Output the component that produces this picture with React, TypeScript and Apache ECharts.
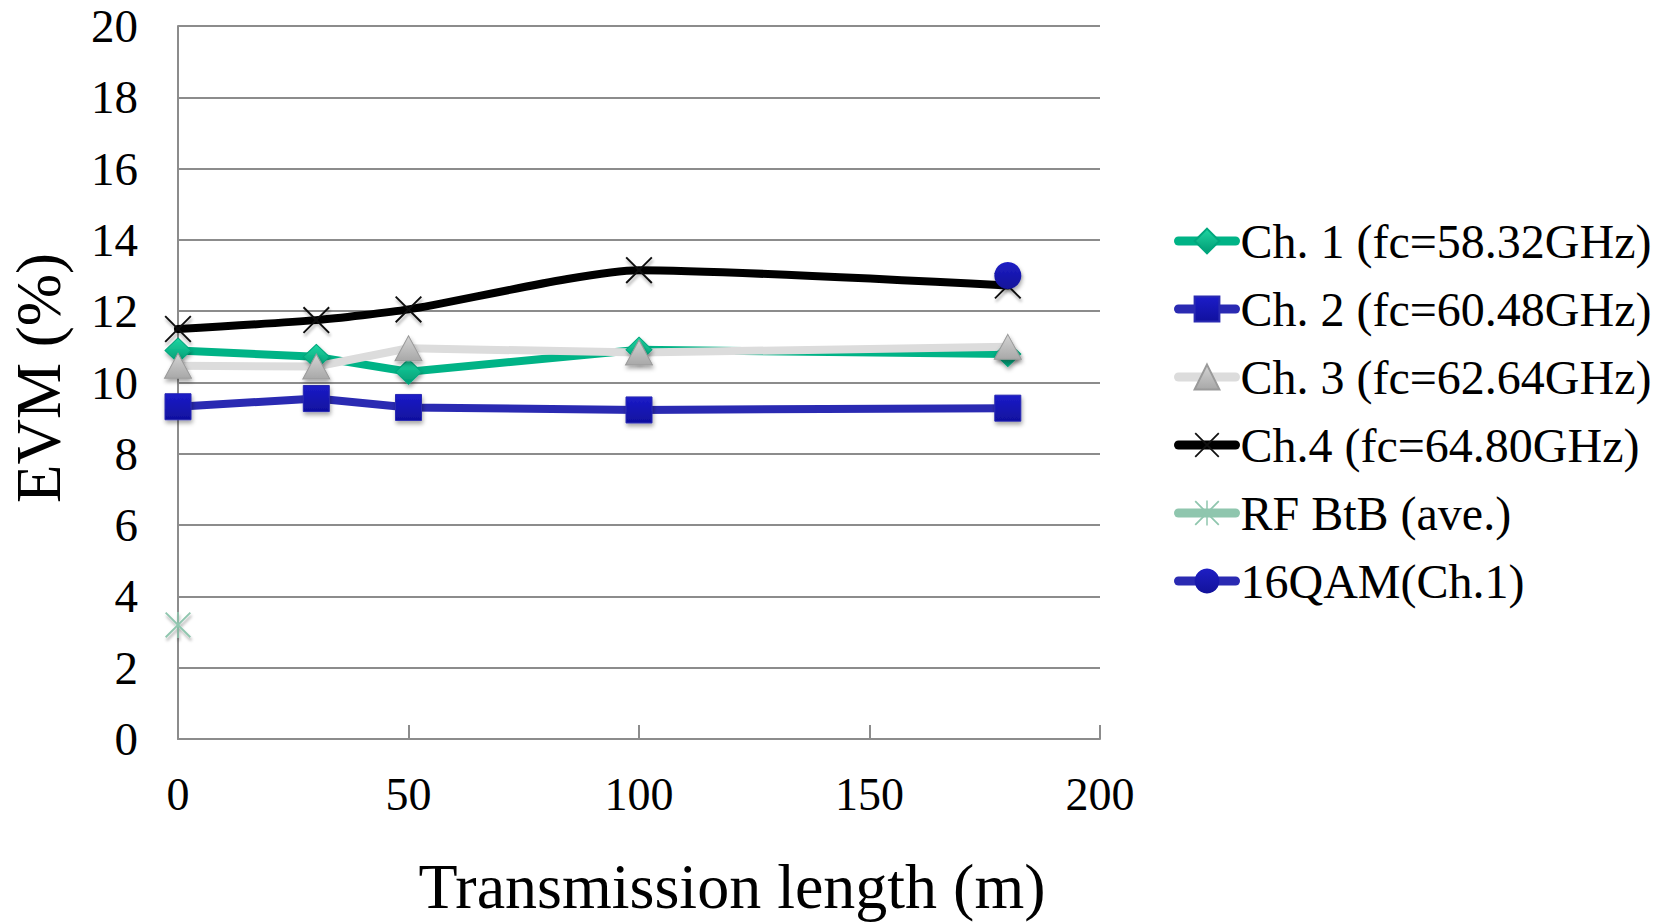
import React, { useEffect, useRef } from "react";
import * as echarts from "echarts";

const distances = [0, 30, 50, 100, 180];
const ch1 = [10.9, 10.72, 10.3, 10.92, 10.8];
const ch2 = [9.32, 9.55, 9.3, 9.23, 9.28];
const ch3 = [10.47, 10.45, 10.96, 10.84, 11.0];
const ch4 = [11.5, 11.75, 12.05, 13.15, 12.72];
const rfBtbX = [0];
const rfBtb = [3.2];
const qam16X = [180];
const qam16 = [13.0];

const seriesNames = [
  "Ch. 1 (fc=58.32GHz)",
  "Ch. 2 (fc=60.48GHz)",
  "Ch. 3 (fc=62.64GHz)",
  "Ch.4 (fc=64.80GHz)",
  "RF BtB (ave.)",
  "16QAM(Ch.1)",
];

const xTicks = { min: 0, max: 200, interval: 50 };
const yTicks = { min: 0, max: 20, interval: 2 };

const FONT = "'Liberation Serif', 'Times New Roman', serif";

const X_PATH =
  "path://M0,1 L1,0 L20,19 L19,20 Z M19,0 L20,1 L1,20 L0,19 Z";
const STAR_PATH =
  "path://M0,1 L1,0 L20,19 L19,20 Z M19,0 L20,1 L1,20 L0,19 Z M9.4,0 L10.6,0 L10.6,20 L9.4,20 Z";

const zip = (xs: number[], ys: number[]) => xs.map((x, i) => [x, ys[i]]);

const shadow = {
  shadowBlur: 4,
  shadowColor: "rgba(0,0,0,0.35)",
  shadowOffsetX: 1,
  shadowOffsetY: 3,
};

export default function App() {
  const ref = useRef<HTMLDivElement>(null);
  useEffect(() => {
    if (!ref.current) return;
    const chart = echarts.init(ref.current, null, { renderer: "svg" });
    const option: any = {
      animation: false,
      backgroundColor: "#ffffff",
      grid: { left: 178, right: 559, top: 26, bottom: 183, containLabel: false },
      xAxis: {
        type: "value",
        min: xTicks.min,
        max: xTicks.max,
        interval: xTicks.interval,
        axisLine: { show: true, lineStyle: { color: "#8c8c8c", width: 2 } },
        axisTick: { show: true, inside: true, length: 14, lineStyle: { color: "#8c8c8c", width: 2 } },
        splitLine: { show: false },
        axisLabel: { fontFamily: FONT, fontSize: 46, color: "#000", margin: 32 },
      },
      yAxis: {
        type: "value",
        min: yTicks.min,
        max: yTicks.max,
        interval: yTicks.interval,
        axisLine: { show: true, lineStyle: { color: "#8c8c8c", width: 2 } },
        axisTick: { show: false },
        splitLine: { show: true, lineStyle: { color: "#8c8c8c", width: 2 } },
        axisLabel: { fontFamily: FONT, fontSize: 47, color: "#000", margin: 40 },
      },
      legend: {
        orient: "vertical",
        left: 1169,
        top: 211,
        itemWidth: 57,
        itemHeight: 31,
        itemGap: 18,
        lineStyle: { width: 9, cap: "round" },
        textStyle: { fontFamily: FONT, fontSize: 48, color: "#000", lineHeight: 50 },
        data: seriesNames,
      },
      graphic: [
        {
          type: "text",
          x: 39,
          y: 378,
          rotation: Math.PI / 2,
          style: {
            text: "EVM (%)",
            font: `63px ${FONT}`,
            fill: "#000",
            align: "center",
            verticalAlign: "middle",
          },
        },
        {
          type: "text",
          x: 732,
          y: 886,
          style: {
            text: "Transmission length (m)",
            font: `64px ${FONT}`,
            fill: "#000",
            align: "center",
            verticalAlign: "middle",
          },
        },
      ],
      series: [
        {
          name: seriesNames[0],
          type: "line",
          data: zip(distances, ch1),
          symbol: "diamond",
          symbolSize: [26, 25],
          lineStyle: { color: "#00B386", width: 8, cap: "round" },
          itemStyle: {
            color: new echarts.graphic.LinearGradient(0, 0, 0, 1, [
              { offset: 0, color: "#1fd6a2" },
              { offset: 1, color: "#009a73" },
            ]),
            borderColor: "#00a77d",
            borderWidth: 1,
            ...shadow,
          },
        },
        {
          name: seriesNames[1],
          type: "line",
          data: zip(distances, ch2),
          symbol: "rect",
          symbolSize: 26,
          lineStyle: { color: "#2A2AB2", width: 8, cap: "round" },
          itemStyle: {
            color: new echarts.graphic.LinearGradient(0, 0, 0, 1, [
              { offset: 0, color: "#1c1cc8" },
              { offset: 1, color: "#10109e" },
            ]),
            borderColor: "#2a2ab2",
            borderWidth: 1,
            ...shadow,
          },
        },
        {
          name: seriesNames[2],
          type: "line",
          data: zip(distances, ch3),
          symbol: "triangle",
          symbolSize: [27, 25],
          lineStyle: { color: "#DCDCDC", width: 8, cap: "round" },
          itemStyle: {
            color: new echarts.graphic.LinearGradient(0, 0, 0, 1, [
              { offset: 0, color: "#d4d4d4" },
              { offset: 1, color: "#a8a8a8" },
            ]),
            borderColor: "#9a9a9a",
            borderWidth: 1,
            ...shadow,
          },
        },
        {
          name: seriesNames[3],
          type: "line",
          data: zip(distances, ch4),
          smooth: 0.2,
          symbol: X_PATH,
          symbolSize: 27,
          lineStyle: { color: "#000000", width: 8, cap: "round" },
          itemStyle: { color: "#111111", ...shadow, shadowBlur: 3 },
        },
        {
          name: seriesNames[4],
          type: "line",
          data: zip(rfBtbX, rfBtb),
          symbol: STAR_PATH,
          symbolSize: 26,
          lineStyle: { color: "#8FC6AE", width: 8, cap: "round" },
          itemStyle: { color: "#8FC6AE", ...shadow, shadowBlur: 3 },
        },
        {
          name: seriesNames[5],
          type: "line",
          data: zip(qam16X, qam16),
          symbol: "circle",
          symbolSize: 27,
          lineStyle: { color: "#2A2AB2", width: 8, cap: "round" },
          itemStyle: {
            color: new echarts.graphic.LinearGradient(0, 0, 0, 1, [
              { offset: 0, color: "#1e1ec4" },
              { offset: 1, color: "#12129a" },
            ]),
            ...shadow,
          },
        },
      ],
    };
    chart.setOption(option);
    return () => chart.dispose();
  }, []);
  return (
    <div
      ref={ref}
      style={{ position: "fixed", left: 0, top: 0, width: 1659, height: 922, background: "#fff" }}
    />
  );
}
